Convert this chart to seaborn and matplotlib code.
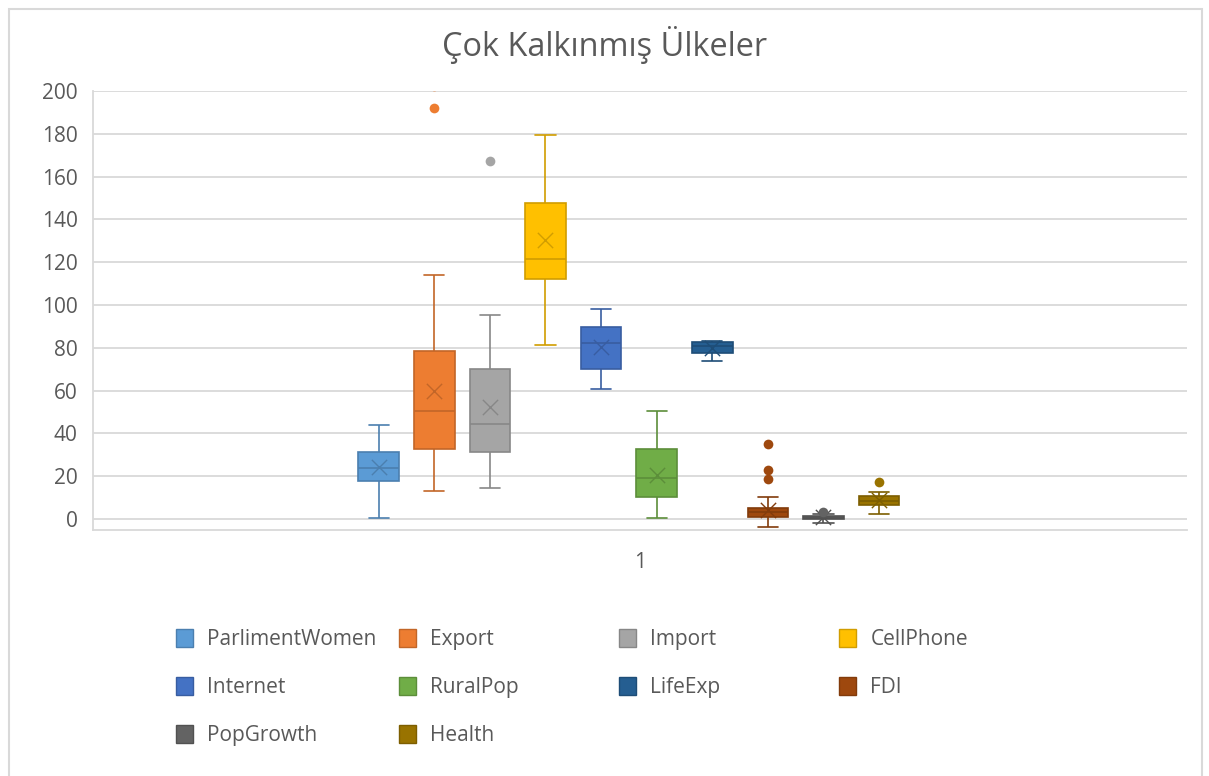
import matplotlib
matplotlib.use("Agg")
import matplotlib.pyplot as plt
import matplotlib.colors as mcolors
from matplotlib.patches import Patch, Rectangle
import seaborn as sns

# Seriler ve renkler (Excel Office paleti)
series = ['ParlimentWomen', 'Export', 'Import', 'CellPhone', 'Internet',
          'RuralPop', 'LifeExp', 'FDI', 'PopGrowth', 'Health']
colors = ['#5B9BD5', '#ED7D31', '#A5A5A5', '#FFC000', '#4472C4',
          '#70AD47', '#255E91', '#9E480E', '#636363', '#997300']

# Kutu grafiği özetleri
whisk_low = [0.3, 13.2, 14.3, 81.3, 60.7, 0.3, 73.8, -3.6, -2.0, 2.2]
q1 = [17.9, 32.9, 31.2, 112.0, 70.1, 10.4, 77.4, 0.8, -0.1, 6.4]
median = [24.0, 50.6, 44.2, 121.3, 82.1, 19.0, 81.0, 3.1, 0.6, 8.5]
q3 = [31.2, 78.5, 70.1, 147.5, 89.9, 32.9, 82.6, 5.3, 1.5, 10.7]
whisk_high = [43.9, 114.0, 95.3, 179.3, 98.0, 50.5, 83.2, 10.4, 2.5, 12.6]
means = [24.3, 60.0, 52.5, 130.6, 80.5, 20.6, 80.0, 4.2, 0.8, 9.0]
outliers = {
    'Export': [192.2, 202.3],
    'Import': [167.3],
    'FDI': [34.9, 22.9, 18.7],
    'PopGrowth': [3.2],
    'Health': [17.1],
}

W, H = 1209, 776
sns.set_theme(style='white')
plt.rcParams['font.family'] = ['Open Sans', 'DejaVu Sans']
text_gray = '#595959'
grid_gray = '#D9D9D9'

fig = plt.figure(figsize=(W / 100, H / 100), dpi=100)
ax = fig.add_axes([93 / W, 1 - 530 / H, (1187 - 93) / W, (530 - 91) / H])


def darker(c, f=0.82):
    r, g, b = mcolors.to_rgb(c)
    return (r * f, g * f, b * f)


for i, name in enumerate(series):
    c = colors[i]
    dc = darker(c)
    vals = [whisk_low[i], q1[i], median[i], q3[i], whisk_high[i]]
    sns.boxplot(x=[name] * len(vals), y=vals, order=series, ax=ax,
                color=c, linecolor=dc, linewidth=1.2, width=0.73,
                whis=(0, 100), showfliers=False, saturation=1)
    # ortalama (X işareti)
    sns.stripplot(x=[name], y=[means[i]], order=series, ax=ax, jitter=False,
                  marker='x', s=11, color=dc, edgecolor=dc, linewidth=1.0,
                  zorder=5)
    if name in outliers:
        pts = outliers[name]
        sns.stripplot(x=[name] * len(pts), y=pts, order=series, ax=ax,
                      jitter=False, marker='o', s=7, color=c, linewidth=0,
                      zorder=5)

ax.set_ylim(-5.1, 200)
ax.set_xlim(4.5 - 9.64, 4.5 + 10.04)
ax.set_yticks(range(0, 201, 20))
ax.set_xticks([sum(ax.get_xlim()) / 2])
ax.set_xticklabels(['1'])
ax.set_xlabel('')
ax.set_ylabel('')
ax.tick_params(axis='both', length=0, labelsize=15, labelcolor=text_gray)
ax.tick_params(axis='y', pad=11)
ax.tick_params(axis='x', pad=16)
ax.yaxis.grid(True, color=grid_gray, linewidth=1.3)
ax.set_axisbelow(True)
for side in ['top', 'right']:
    ax.spines[side].set_visible(False)
for side in ['left', 'bottom']:
    ax.spines[side].set_color(grid_gray)
    ax.spines[side].set_linewidth(1.3)

fig.text(605 / W, 1 - 45 / H, 'Çok Kalkınmış Ülkeler', ha='center', va='center',
         fontsize=23.4, color=text_gray)

# Lejant: Excel gibi eşit genişlikte 4 sütun
handles = [Patch(facecolor=c, edgecolor=darker(c), linewidth=1.0) for c in colors]
col_x = [176, 399, 619, 839]
for col in range(4):
    idx = list(range(col, len(series), 4))
    leg = fig.legend([handles[j] for j in idx], [series[j] for j in idx],
                     loc='upper left', bbox_to_anchor=(col_x[col] / W, 1 - 629 / H),
                     frameon=False, fontsize=15, handlelength=0.8,
                     handleheight=0.95, handletextpad=0.7, labelspacing=1.29,
                     borderaxespad=0, borderpad=0)
    for t in leg.get_texts():
        t.set_color(text_gray)

# Dış çerçeve
fig.patches.append(Rectangle((8.5 / W, -0.01), (1202 - 8.5) / W, 1.01 - 8.5 / H,
                             transform=fig.transFigure, fill=False,
                             edgecolor=grid_gray, linewidth=1.5))

fig.savefig('out.png', dpi=100)
